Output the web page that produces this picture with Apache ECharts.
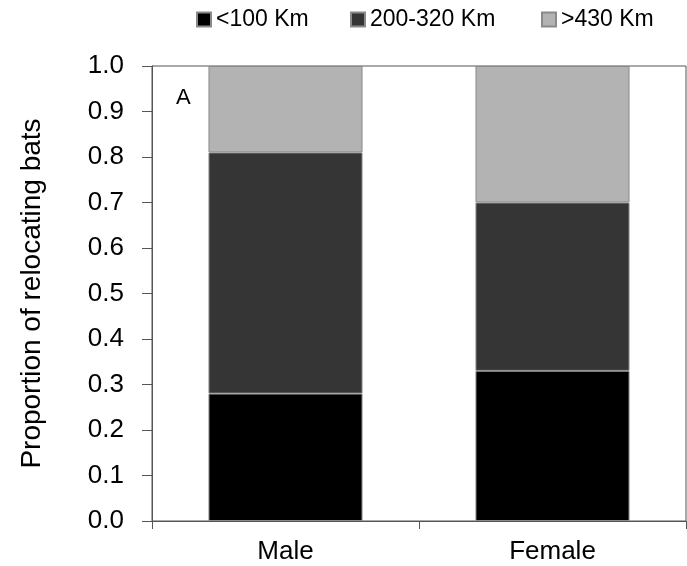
<!DOCTYPE html>
<html>
<head>
<meta charset="utf-8">
<script src="https://cdn.jsdelivr.net/npm/echarts@6/dist/echarts.min.js"></script>
<style>
html,body{margin:0;padding:0;background:#fff;}
#chart{width:687px;height:566px;}
</style>
</head>
<body>
<div id="chart"></div>
<script>
var categories = ['Male', 'Female'];
var seriesNames = ['<100 Km', '200-320 Km', '>430 Km'];
var near = [0.28, 0.33];
var middle = [0.53, 0.37];
var far = [0.19, 0.30];
var yTicks = [0, 0.1, 0.2, 0.3, 0.4, 0.5, 0.6, 0.7, 0.8, 0.9, 1.0];

var colors = ['#000000', '#353535', '#b3b3b3'];
var font = 'Liberation Sans, Arial, sans-serif';

function legendFor(name, left){
	return {
		data: [name],
		left: left,
		top: 3,
		icon: 'rect',
		itemWidth: 14,
		itemHeight: 14,
		textStyle: {color: '#000', fontSize: 23, fontFamily: font, padding: [2, 0, 0, 0]}
	};
}

function barSeries(name, data, color){
	return {
		name: name,
		type: 'bar',
		stack: 'total',
		barWidth: '57.7%',
		itemStyle: {color: color, borderColor: '#8a8a8a', borderWidth: 1},
		data: data
	};
}

var option = {
	animation: false,
	color: colors,
	title: {
		text: 'A',
		left: 171,
		top: 82,
		textStyle: {color: '#000', fontSize: 22, fontWeight: 'normal', fontFamily: font}
	},
	legend: [
		legendFor(seriesNames[0], 191),
		legendFor(seriesNames[1], 345),
		legendFor(seriesNames[2], 536)
	],
	grid: {
		left: 152,
		right: 1,
		top: 66,
		bottom: 45,
		show: true,
		borderColor: '#555',
		borderWidth: 1
	},
	xAxis: {
		type: 'category',
		data: categories,
		axisLine: {lineStyle: {color: '#555'}},
		axisTick: {show: true, length: 8, lineStyle: {color: '#555'}},
		axisLabel: {color: '#000', fontSize: 26, fontFamily: font, margin: 18}
	},
	yAxis: {
		type: 'value',
		min: 0,
		max: 1,
		interval: 0.1,
		name: 'Proportion of relocating bats',
		nameLocation: 'middle',
		nameGap: 106,
		nameTextStyle: {color: '#000', fontSize: 28, fontFamily: font},
		axisLine: {show: true, lineStyle: {color: '#555'}},
		axisTick: {show: true, length: 10, inside: false, lineStyle: {color: '#555'}},
		splitLine: {show: false},
		axisLabel: {
			color: '#000',
			fontSize: 26,
			fontFamily: font,
			margin: 28,
			formatter: function(v){
				for (var i = 0; i < yTicks.length; i++) {
					if (Math.abs(yTicks[i] - v) < 1e-6) return yTicks[i].toFixed(1);
				}
				return '';
			}
		}
	},
	series: [
		barSeries(seriesNames[0], near, colors[0]),
		barSeries(seriesNames[1], middle, colors[1]),
		barSeries(seriesNames[2], far, colors[2])
	]
};

var n = echarts.init(document.getElementById('chart'));
n.setOption(option);
</script>
</body>
</html>
